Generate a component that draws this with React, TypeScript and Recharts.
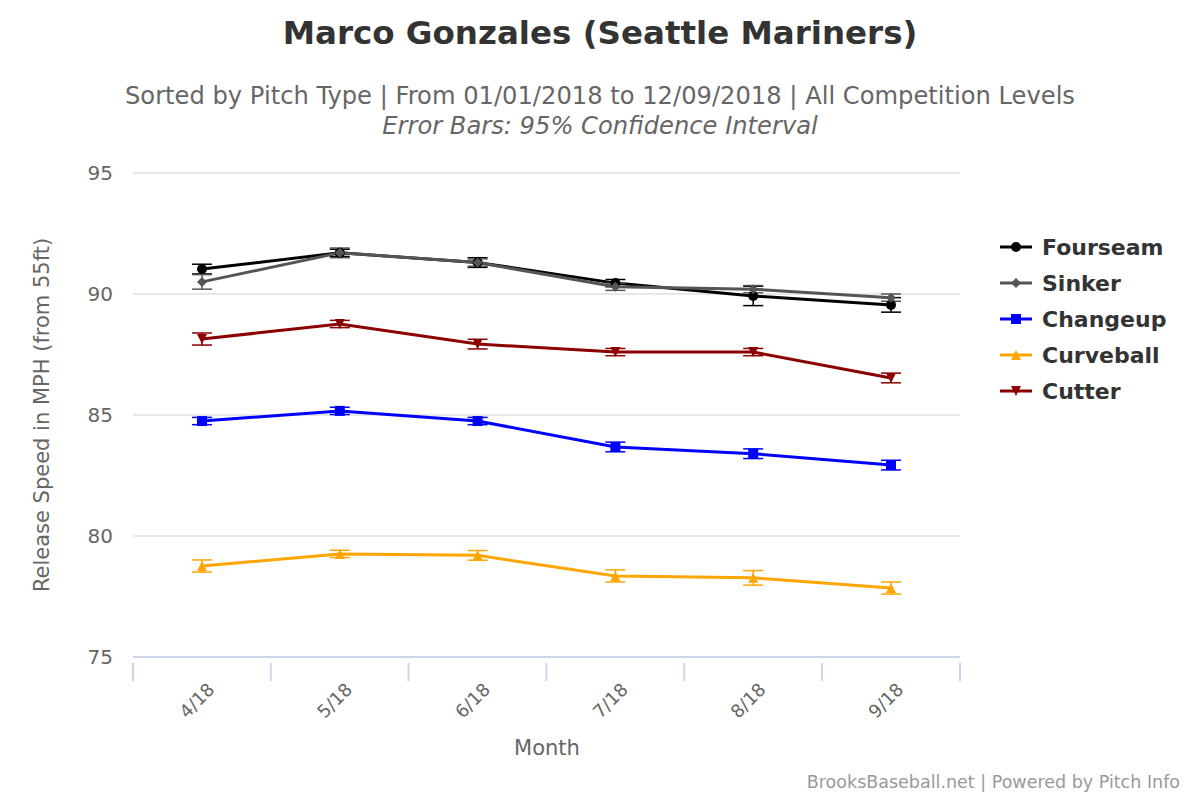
import React from 'react';
import { LineChart, Line, XAxis, YAxis, CartesianGrid, ErrorBar } from 'recharts';

const months = ['4/18', '5/18', '6/18', '7/18', '8/18', '9/18'];
const fourseam = [91.03, 91.7, 91.3, 90.45, 89.92, 89.55];
const fourseamErr = [0.2, 0.15, 0.2, 0.15, 0.4, 0.3];
const sinker = [90.5, 91.7, 91.3, 90.3, 90.2, 89.85];
const sinkerErr = [0.3, 0.2, 0.15, 0.15, 0.15, 0.15];
const changeup = [84.75, 85.17, 84.75, 83.68, 83.4, 82.93];
const changeupErr = [0.15, 0.15, 0.15, 0.2, 0.2, 0.2];
const curveball = [78.76, 79.26, 79.2, 78.35, 78.27, 77.85];
const curveballErr = [0.25, 0.15, 0.2, 0.25, 0.3, 0.25];
const cutter = [88.14, 88.76, 87.93, 87.6, 87.6, 86.53];
const cutterErr = [0.25, 0.15, 0.2, 0.15, 0.15, 0.2];
const yTicks = [75, 80, 85, 90, 95];

const series = [
  { key: 'Fourseam', values: fourseam, err: fourseamErr, color: '#000000', shape: 'circle' },
  { key: 'Sinker', values: sinker, err: sinkerErr, color: '#555555', shape: 'diamond' },
  { key: 'Changeup', values: changeup, err: changeupErr, color: '#0000ff', shape: 'square' },
  { key: 'Curveball', values: curveball, err: curveballErr, color: '#ffa500', shape: 'triangle' },
  { key: 'Cutter', values: cutter, err: cutterErr, color: '#8b0000', shape: 'triangle-down' },
];

const data = months.map((m, i) => {
  const row: Record<string, any> = { month: m };
  series.forEach((s) => {
    row[s.key] = s.values[i];
    row[s.key + 'Err'] = s.err[i];
  });
  return row;
});

function Marker({ cx, cy, shape, color }: { cx: number; cy: number; shape: string; color: string }) {
  const r = 5;
  if (shape === 'circle') return <circle cx={cx} cy={cy} r={r} fill={color} />;
  if (shape === 'square') return <rect x={cx - r} y={cy - r} width={2 * r} height={2 * r} fill={color} />;
  if (shape === 'diamond')
    return <path d={`M${cx},${cy - r} L${cx + r},${cy} L${cx},${cy + r} L${cx - r},${cy} Z`} fill={color} />;
  if (shape === 'triangle')
    return <path d={`M${cx},${cy - r} L${cx + r},${cy + r} L${cx - r},${cy + r} Z`} fill={color} />;
  return <path d={`M${cx},${cy + r} L${cx + r},${cy - r} L${cx - r},${cy - r} Z`} fill={color} />;
}

const font = '"DejaVu Sans", sans-serif';
// band half-width used for x padding and boundary ticks
const half = 69;

export default function App() {
  return (
    <div style={{ position: 'relative', width: 1200, height: 800, margin: -8, background: '#fff', fontFamily: font }}>
      <div style={{ position: 'absolute', top: 14, width: 1200, textAlign: 'center', fontSize: 32.5, fontWeight: 'bold', color: '#333' }}>
        Marco Gonzales (Seattle Mariners)
      </div>
      <div style={{ position: 'absolute', top: 82, width: 1200, textAlign: 'center', fontSize: 24.2, color: '#666' }}>
        Sorted by Pitch Type | From 01/01/2018 to 12/09/2018 | All Competition Levels
      </div>
      <div style={{ position: 'absolute', top: 112, width: 1200, textAlign: 'center', fontSize: 24.2, color: '#666', fontStyle: 'italic' }}>
        Error Bars: 95% Confidence Interval
      </div>
      <LineChart width={1200} height={800} data={data} margin={{ top: 173, right: 240, bottom: 113, left: 73 }}>
        <CartesianGrid horizontal vertical={false} stroke="#e0e0e0" strokeWidth={1.5} />
        <XAxis
          dataKey="month"
          height={30}
          padding={{ left: half, right: half }}
          axisLine={{ stroke: '#ccd6eb', strokeWidth: 2 }}
          tickLine={false}
          interval={0}
          tick={(p: any) => (
            <g>
              <line x1={p.x - half} x2={p.x - half} y1={p.y - 2} y2={p.y + 16} stroke="#ccd6eb" strokeWidth={2} />
              {p.index === months.length - 1 && (
                <line x1={p.x + half} x2={p.x + half} y1={p.y - 2} y2={p.y + 16} stroke="#ccd6eb" strokeWidth={2} />
              )}
              <text x={p.x + 8} y={p.y + 20} transform={`rotate(-45 ${p.x + 8} ${p.y + 20})`} textAnchor="end" dy={8} fontSize={18} fill="#666" fontFamily={font}>
                {p.payload.value}
              </text>
            </g>
          )}
        />
        <YAxis
          width={60}
          domain={[75, 95]}
          ticks={yTicks}
          axisLine={false}
          tickLine={false}
          tick={{ fontSize: 20, fill: '#666', fontFamily: font, dx: -12 }}
        />
        {series.map((s) => (
          <Line
            key={s.key}
            dataKey={s.key}
            stroke={s.color}
            strokeWidth={3}
            isAnimationActive={false}
            dot={(p: any) => <Marker key={p.index} cx={p.cx} cy={p.cy} shape={s.shape} color={s.color} />}
            activeDot={false}
          >
            <ErrorBar dataKey={s.key + 'Err'} width={10} stroke={s.color} strokeWidth={1.5} direction="y" />
          </Line>
        ))}
      </LineChart>
      <div style={{ position: 'absolute', left: 42, top: 415, transform: 'translate(-50%,-50%) rotate(-90deg)', fontSize: 21, color: '#666', whiteSpace: 'nowrap' }}>
        Release Speed in MPH (from 55ft)
      </div>
      <div style={{ position: 'absolute', left: 547, top: 736, transform: 'translateX(-50%)', fontSize: 21, color: '#666' }}>Month</div>
      <svg style={{ position: 'absolute', left: 990, top: 229 }} width={200} height={180}>
        {series.map((s, i) => (
          <g key={s.key}>
            <line x1={10} x2={42} y1={18 + i * 36} y2={18 + i * 36} stroke={s.color} strokeWidth={3} />
            <Marker cx={26} cy={18 + i * 36} shape={s.shape} color={s.color} />
            <text x={52} y={26 + i * 36} fontSize={22} fontWeight="bold" fill="#333" fontFamily={font}>{s.key}</text>
          </g>
        ))}
      </svg>
      <div style={{ position: 'absolute', right: 20, top: 772, fontSize: 17.5, color: '#999' }}>
        BrooksBaseball.net | Powered by Pitch Info
      </div>
    </div>
  );
}
